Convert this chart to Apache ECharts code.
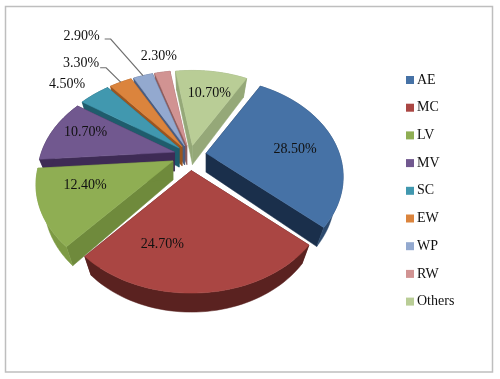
<!DOCTYPE html>
<html>
<head>
<meta charset="utf-8">
<script src="https://cdn.jsdelivr.net/npm/echarts@6/dist/echarts.min.js"></script>
<style>
  html, body { margin: 0; padding: 0; background: #fff; }
  #chart { width: 500px; height: 379px; }
</style>
</head>
<body>
<div id="chart"></div>
<script>
const names = ['AE', 'MC', 'LV', 'MV', 'SC', 'EW', 'WP', 'RW', 'Others'];
const shares = [28.5, 24.7, 12.4, 10.7, 4.5, 3.3, 2.9, 2.3, 10.7];
const labels = ['28.50%', '24.70%', '12.40%', '10.70%', '4.50%', '3.30%', '2.90%', '2.30%', '10.70%'];

const topColors = ['#4672A6', '#AA4643', '#8FAE53', '#71588F', '#4198AF', '#DB843D', '#93A9CF', '#D19392', '#B9CD96'];
const sideColors = ['#1A2F4B', '#4A1A18', '#6F8A3C', '#3E2B55', '#1F5C6C', '#9A5520', '#4B5D80', '#8E5C5C', '#95A878'];
const outerColors = ['#2C4A6E', '#5A2220', '#7D9A44', '#3E2B55', '#1F5C6C', '#9A5520', '#4B5D80', '#8E5C5C', '#95A878'];

// pseudo-3D projection of the tilted pie
const center = [190, 155];
const radius = 133;
const tilt = 0.7;
const persp = 0.24;
const explode = 17;
const depth = 19;
const firstAngle = 29.5;

// label offsets from the apex of each slice
const labelOffset = [[89, -4], [-29, 74], [-88, 24], [-89, -20], [-112, -64], [-101, -83], [-103, -110], [-28, -89], [17, -52]];
// where the leader lines leave the label, relative to its centre
const leaderStart = { EW: [19, 4], WP: [23, 3] };
// back slices first so the front ones sit on top
const drawOrder = [8, 7, 6, 5, 4, 3, 2, 0, 1];

const total = shares.reduce((a, b) => a + b, 0);
const starts = [];
shares.reduce((acc, v, i) => {
  starts[i] = acc;
  return acc + v / total * 360;
}, firstAngle);

function proj(deg, r) {
  const rad = deg * Math.PI / 180;
  const u = Math.sin(rad);
  const v = -Math.cos(rad);
  const s = 1 / (1 - persp * v);
  return [r * u * s, r * tilt * v * s];
}

function renderSlice(i) {
  return function () {
    const a0 = starts[i];
    const a1 = a0 + shares[i] / total * 360;
    const mid = (a0 + a1) / 2;
    const off = proj(mid, explode);
    const apex = [center[0] + off[0], center[1] + off[1]];

    const arc = [];
    const steps = 48;
    for (let k = 0; k <= steps; k++) {
      const p = proj(a0 + (a1 - a0) * k / steps, radius);
      arc.push([apex[0] + p[0], apex[1] + p[1]]);
    }
    const low = p => [apex[0] + (p[0] - apex[0]) * 0.94, p[1] + depth];
    const apexLow = low(apex);
    const first = arc[0];
    const last = arc[arc.length - 1];

    const poly = (points, fill) => ({ type: 'polygon', shape: { points }, style: { fill, stroke: fill, lineWidth: 0.5 } });
    const children = [
      poly([apex, first, low(first), apexLow], sideColors[i]),
      poly([apex, last, low(last), apexLow], sideColors[i]),
      poly(arc.concat(arc.map(low).reverse()), outerColors[i]),
      poly([apex].concat(arc), topColors[i])
    ];

    const lx = apex[0] + labelOffset[i][0];
    const ly = apex[1] + labelOffset[i][1];

    // leader lines for the two labels pushed away from their slices
    const leader = leaderStart[names[i]];
    if (leader) {
      const edge = proj(mid, radius);
      children.push({
        type: 'polyline',
        shape: { points: [[lx + leader[0], ly + leader[1]], [lx + leader[0] + 6, ly + leader[1]], [apex[0] + edge[0], apex[1] + edge[1]]] },
        style: { fill: 'none', stroke: '#6F6F6F', lineWidth: 1.2 }
      });
    }

    children.push({
      type: 'text',
      style: {
        x: lx,
        y: ly,
        text: labels[i],
        fill: '#111',
        font: '14px "Liberation Serif"',
        align: 'center',
        verticalAlign: 'middle'
      }
    });
    return { type: 'group', children };
  };
}

const chart = echarts.init(document.getElementById('chart'));

chart.setOption({
  animation: false,
  backgroundColor: '#fff',
  graphic: [{
    type: 'rect',
    silent: true,
    z: -1,
    shape: { x: 5.5, y: 6.5, width: 487, height: 365.5 },
    style: { fill: '#fff', stroke: '#BEBEBE', lineWidth: 1.5 }
  }],
  legend: {
    data: names,
    orient: 'vertical',
    left: 406,
    top: 72.5,
    padding: 0,
    icon: 'rect',
    itemWidth: 8,
    itemHeight: 8,
    itemGap: 12.7,
    selectedMode: false,
    textStyle: { fontFamily: 'Liberation Serif', fontSize: 14, color: '#111', lineHeight: 15, padding: [0, 0, 0, -2] }
  },
  series: drawOrder.map(i => ({
    type: 'custom',
    name: names[i],
    coordinateSystem: 'none',
    silent: true,
    itemStyle: { color: topColors[i] },
    renderItem: renderSlice(i),
    data: [shares[i]]
  }))
});

window.addEventListener('resize', () => chart.resize());
</script>
</body>
</html>
